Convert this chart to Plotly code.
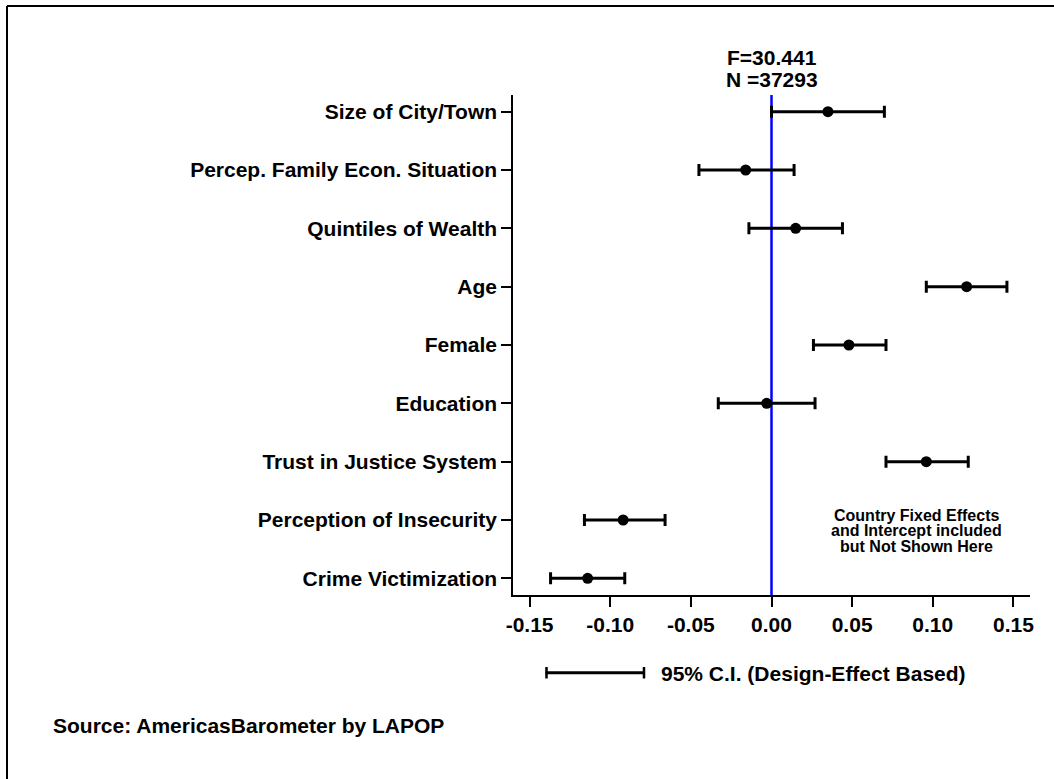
import plotly.graph_objects as go

# ---------------- data ----------------
labels = ["Size of City/Town", "Percep. Family Econ. Situation", "Quintiles of Wealth",
          "Age", "Female", "Education", "Trust in Justice System",
          "Perception of Insecurity", "Crime Victimization"]
coef = [0.035, -0.016, 0.015, 0.121, 0.048, -0.003, 0.096, -0.092, -0.114]
ci_low = [0.000, -0.045, -0.014, 0.096, 0.026, -0.033, 0.071, -0.116, -0.137]
ci_high = [0.070, 0.014, 0.044, 0.146, 0.071, 0.027, 0.122, -0.066, -0.091]
x_tickvals = [-0.15, -0.10, -0.05, 0.00, 0.05, 0.10, 0.15]
x_ticktext = ["-0.15", "-0.10", "-0.05", "0.00", "0.05", "0.10", "0.15"]
f_text = "F=30.441"
n_text = "N =37293"
note_lines = ["Country Fixed Effects", "and Intercept included", "but Not Shown Here"]
legend_text = "95% C.I. (Design-Effect Based)"
source_text = "Source: AmericasBarometer by LAPOP"

# ---------------- layout geometry ----------------
W, H = 1054, 779
L, R, T, B = 513, 24, 95, 184
PW, PH = W - L - R, H - T - B

def px(x):
    return (x - L) / PW

def py(y):
    return (H - B - y) / PH

FONT = "Liberation Sans, Arial, Helvetica, sans-serif"
ypos = list(range(len(labels)))

fig = go.Figure()
fig.add_trace(go.Scatter(
    x=coef, y=ypos, mode="markers",
    marker=dict(color="black", size=11),
    error_x=dict(type="data", symmetric=False,
                 array=[h - c for h, c in zip(ci_high, coef)],
                 arrayminus=[c - l for c, l in zip(coef, ci_low)],
                 color="black", thickness=3, width=6),
    showlegend=False, hoverinfo="skip",
))

shapes = [
    # zero reference line
    dict(type="line", xref="x", yref="paper", x0=0, x1=0, y0=0, y1=1,
         line=dict(color="#0000ff", width=2.5), layer="below"),
    # legend CI sample
    dict(type="line", xref="paper", yref="paper", x0=px(545.5), x1=px(645), y0=py(672.7), y1=py(672.7),
         line=dict(color="black", width=3)),
    dict(type="line", xref="paper", yref="paper", x0=px(546.5), x1=px(546.5), y0=py(667), y1=py(678.5),
         line=dict(color="black", width=2.5)),
    dict(type="line", xref="paper", yref="paper", x0=px(644), x1=px(644), y0=py(667), y1=py(678.5),
         line=dict(color="black", width=2.5)),
    # outer frame (top and left visible)
    dict(type="line", xref="paper", yref="paper", x0=px(7), x1=px(1070), y0=py(6), y1=py(6),
         line=dict(color="black", width=2)),
    dict(type="line", xref="paper", yref="paper", x0=px(7), x1=px(7), y0=py(6), y1=py(800),
         line=dict(color="black", width=2)),
]

bold = dict(family=FONT, size=21, color="black", weight="bold")
annotations = [
    dict(text=f_text, x=0, xref="x", y=py(58), yref="paper", showarrow=False,
         xanchor="center", yanchor="middle", font=bold),
    dict(text=n_text, x=0, xref="x", y=py(80), yref="paper", showarrow=False,
         xanchor="center", yanchor="middle", font=bold),
    dict(text=legend_text, x=px(659), xref="paper", y=py(673), yref="paper", showarrow=False,
         xanchor="left", yanchor="middle", font=bold),
    dict(text=source_text, x=px(51), xref="paper", y=py(725), yref="paper", showarrow=False,
         xanchor="left", yanchor="middle", font=bold),
]
for line, yy in zip(note_lines, [515, 530.5, 546]):
    annotations.append(dict(text=line, x=px(916), xref="paper", y=py(yy), yref="paper",
                            showarrow=False, xanchor="center", yanchor="middle",
                            font=dict(family=FONT, size=16, color="black", weight="bold")))

fig.update_layout(
    width=W, height=H,
    margin=dict(l=L, r=R, t=T, b=B, pad=0),
    paper_bgcolor="white", plot_bgcolor="white",
    shapes=shapes, annotations=annotations,
    xaxis=dict(range=[-0.1603, 0.1603], tickvals=x_tickvals, ticktext=x_ticktext,
               showline=True, linecolor="black", linewidth=1.5,
               ticks="outside", ticklen=10, tickwidth=1.5, tickcolor="black",
               showgrid=False, zeroline=False, tickfont=bold, fixedrange=True),
    yaxis=dict(range=[len(labels) - 1 + 0.286, -0.286], tickvals=ypos, ticktext=labels,
               showline=True, linecolor="black", linewidth=1.5,
               ticks="outside", ticklen=10, tickwidth=1.5, tickcolor="black",
               showgrid=False, zeroline=False, tickfont=bold, fixedrange=True),
    showlegend=False,
)

fig.write_html("out.html", config={"displayModeBar": False},
               post_script="document.body.style.margin='0';document.body.style.overflow='hidden';")
